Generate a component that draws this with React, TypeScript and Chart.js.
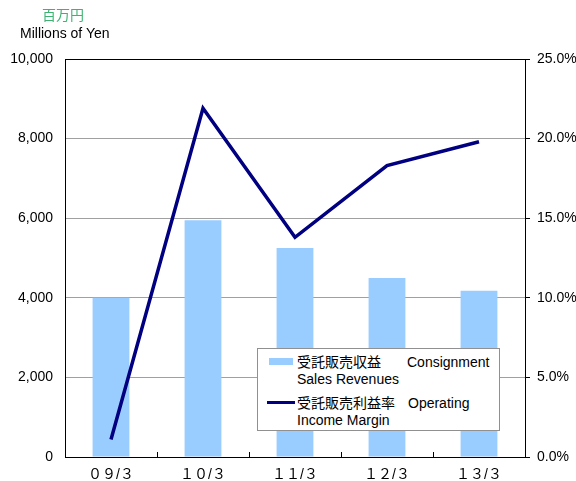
import React, { useEffect, useRef } from "react";
import { Chart, registerables } from "chart.js";

Chart.register(...registerables);

const categories = ["０９/３", "１０/３", "１１/３", "１２/３", "１３/３"];
const salesRevenues = [4000, 5950, 5250, 4500, 4180];
const operatingMargin = [1.1, 21.9, 13.8, 18.3, 19.8];
const leftTicks = [0, 2000, 4000, 6000, 8000, 10000];
const rightTicks = [0, 5, 10, 15, 20, 25];

const FONT = "'Liberation Sans', Arial, sans-serif";
const JFONT = "'Liberation Sans', 'Noto Sans CJK JP', sans-serif";

const framePlugin = {
  id: "frame",
  afterDraw(chart: any) {
    const { ctx, chartArea, scales } = chart;
    ctx.save();
    ctx.strokeStyle = "#000";
    ctx.lineWidth = 1;
    ctx.strokeRect(
      Math.round(chartArea.left) + 0.5,
      Math.round(chartArea.top) + 0.5,
      Math.round(chartArea.right - chartArea.left),
      Math.round(chartArea.bottom - chartArea.top)
    );
    const xs = scales.x;
    for (let i = 1; i < categories.length; i++) {
      const px = Math.round((xs.getPixelForValue(i - 1) + xs.getPixelForValue(i)) / 2) + 0.5;
      ctx.beginPath();
      ctx.moveTo(px, chartArea.bottom);
      ctx.lineTo(px, chartArea.bottom - 5);
      ctx.stroke();
    }
    ctx.restore();
  },
};

export default function App() {
  const ref = useRef<HTMLCanvasElement>(null);
  useEffect(() => {
    document.body.style.margin = "0";
    const chart = new Chart(ref.current!, {
      type: "bar",
      data: {
        labels: categories,
        datasets: [
          {
            type: "line",
            label: "受託販売利益率",
            data: operatingMargin,
            yAxisID: "y2",
            borderColor: "#000080",
            backgroundColor: "#000080",
            borderWidth: 3.5,
            pointRadius: 0,
            tension: 0,
            order: 0,
          } as any,
          {
            type: "bar",
            label: "受託販売収益",
            data: salesRevenues,
            yAxisID: "y",
            backgroundColor: "#99CCFF",
            barPercentage: 0.4,
            categoryPercentage: 1,
            order: 1,
          },
        ],
      },
      options: {
        animation: false,
        responsive: false,
        maintainAspectRatio: false,
        layout: { padding: { top: 59, left: 0, right: 0, bottom: 0 } },
        plugins: { legend: { display: false }, tooltip: { enabled: false } },
        scales: {
          x: {
            afterFit: (s: any) => { s.height = 24; },
            grid: { display: false },
            border: { color: "#000" },
            ticks: { color: "#000", font: { family: JFONT, size: 14 }, padding: 2 },
          },
          y: {
            position: "left",
            min: 0,
            max: 10000,
            afterFit: (s: any) => { s.width = 65; },
            afterBuildTicks: (s: any) => { s.ticks = leftTicks.map((v) => ({ value: v })); },
            grid: { color: "#a0a0a0", drawTicks: false },
            border: { color: "#000" },
            ticks: {
              color: "#000",
              padding: 12,
              font: { family: FONT, size: 14 },
              callback: (v: any) => Number(v).toLocaleString("en-US"),
            },
          },
          y2: {
            position: "right",
            min: 0,
            max: 25,
            afterFit: (s: any) => { s.width = 51; },
            afterBuildTicks: (s: any) => { s.ticks = rightTicks.map((v) => ({ value: v })); },
            grid: { drawOnChartArea: false, color: "#000", tickLength: 5 },
            border: { color: "#000" },
            ticks: {
              color: "#000",
              padding: 7,
              font: { family: FONT, size: 14 },
              callback: (v: any) => Number(v).toFixed(1) + "%",
            },
          },
        },
      },
      plugins: [framePlugin],
    });
    return () => chart.destroy();
  }, []);

  const txt: React.CSSProperties = { position: "absolute", fontFamily: JFONT, fontSize: 14, color: "#000", whiteSpace: "nowrap", lineHeight: "16px" };

  return (
    <div style={{ position: "relative", width: 576, height: 481, background: "#fff", overflow: "hidden" }}>
      <canvas ref={ref} width={576} height={481} style={{ position: "absolute", left: 0, top: 0 }} />
      <div style={{ ...txt, left: 42, top: 7, color: "#3cb371", fontSize: 14 }}>百万円</div>
      <div style={{ ...txt, left: 20, top: 25, fontSize: 14 }}>Millions of Yen</div>
      <div style={{ position: "absolute", left: 257, top: 348, width: 241, height: 81, background: "#fff", border: "1px solid #909090" }}>
        <div style={{ position: "absolute", left: 11, top: 9, width: 24, height: 7, background: "#99CCFF" }} />
        <div style={{ ...txt, left: 39, top: 5 }}>受託販売収益</div>
        <div style={{ ...txt, left: 149, top: 5 }}>Consignment</div>
        <div style={{ ...txt, left: 39, top: 22 }}>Sales Revenues</div>
        <div style={{ position: "absolute", left: 9, top: 52, width: 28, height: 3, background: "#000080" }} />
        <div style={{ ...txt, left: 39, top: 46 }}>受託販売利益率</div>
        <div style={{ ...txt, left: 150, top: 46 }}>Operating</div>
        <div style={{ ...txt, left: 39, top: 63 }}>Income Margin</div>
      </div>
    </div>
  );
}
